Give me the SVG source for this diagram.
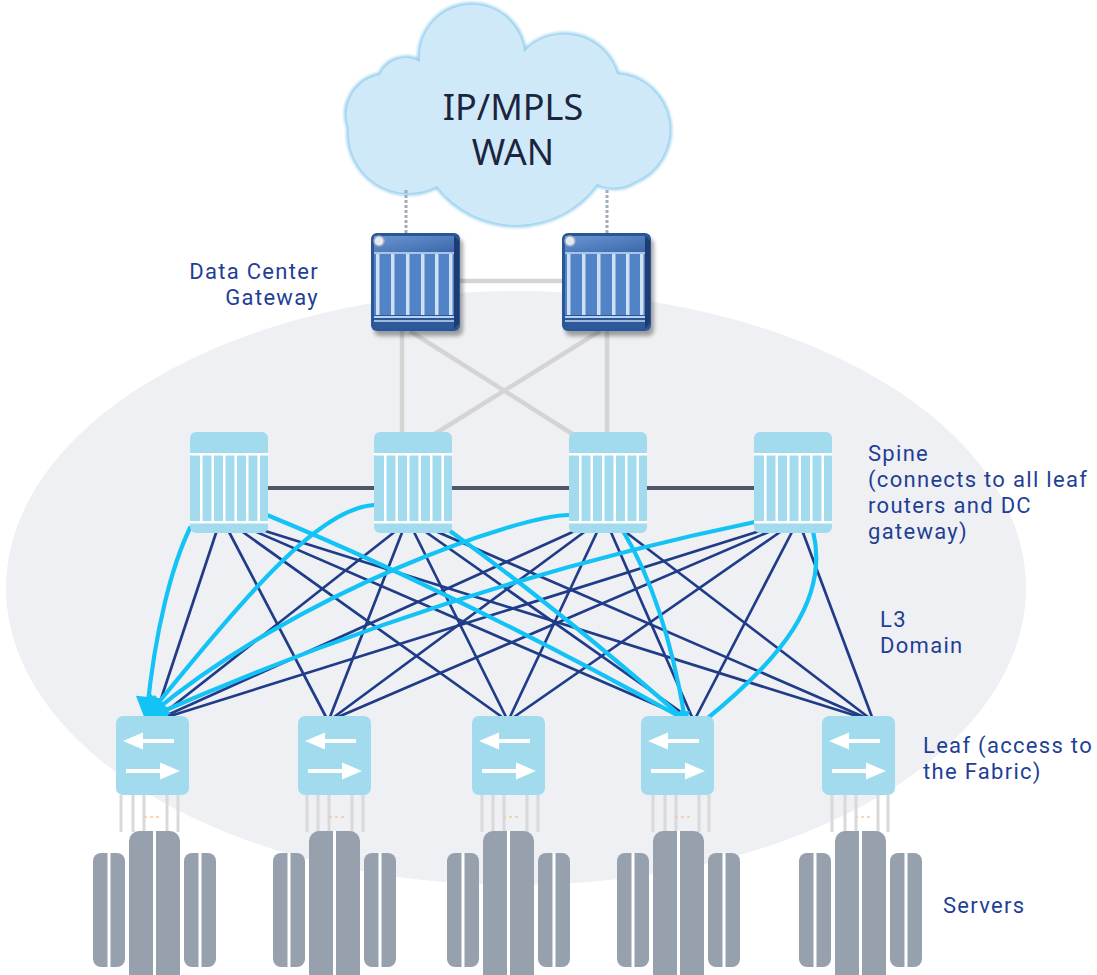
<svg xmlns="http://www.w3.org/2000/svg" xmlns:xlink="http://www.w3.org/1999/xlink" width="1097" height="975" viewBox="0 0 1097 975">
  <style>
    .lbl { font-family: Roboto, "Liberation Sans", sans-serif; font-size: 22px; fill: #1f3f95; letter-spacing: 1.3px; }
    .wan { font-family: "Noto Sans", "Open Sans", sans-serif; font-size: 36px; fill: #1b2540; text-anchor: middle; }
    .core { stroke: #d4d4d4; stroke-width: 4.5; fill: none; }
    .dark { stroke: #1f3c88; stroke-width: 2.7; fill: none; }
    .cyan { stroke: #14c3f5; stroke-width: 4.2; fill: none; stroke-linecap: round; }
    .cable { stroke: #d9d9d9; stroke-width: 3; }
    .srv { fill: #97a1ae; }
    .gap { stroke: #ffffff; stroke-width: 3; }
  </style>
  <defs>
    <filter id="soft" x="-10%" y="-10%" width="120%" height="120%">
      <feGaussianBlur stdDeviation="1.4"/>
    </filter>
    <filter id="shadow" x="-20%" y="-20%" width="140%" height="140%">
      <feGaussianBlur stdDeviation="2"/>
    </filter>
    <marker id="head" viewBox="0 0 10 10" refX="6" refY="5" markerWidth="7" markerHeight="6" orient="auto" markerUnits="strokeWidth">
      <path d="M0,0 L10,5 L0,10 Z" fill="#14c3f5"/>
    </marker>
    <marker id="tip" viewBox="0 0 10 10" refX="6" refY="5" markerWidth="3" markerHeight="3" orient="auto" markerUnits="strokeWidth">
      <path d="M0,0 L10,5 L0,10 Z" fill="#14c3f5"/>
    </marker>

    <linearGradient id="gwTop" x1="0" y1="0" x2="1" y2="1">
      <stop offset="0" stop-color="#6a95d2"/>
      <stop offset="1" stop-color="#3c68ab"/>
    </linearGradient>

    <!-- gateway router: blue chassis with card slots -->
    <g id="gwShape">
      <rect x="3" y="5" width="89" height="98" rx="6" fill="#000" opacity="0.35" filter="url(#shadow)"/>
      <rect width="89" height="98" rx="6" fill="#2a5596"/>
      <rect x="3" y="3" width="80" height="16" fill="url(#gwTop)"/>
      <rect x="3" y="19" width="80" height="2" fill="#a9c4e7"/>
      <rect x="3" y="21" width="80" height="61" fill="#5283c6"/>
      <rect x="5" y="21" width="3.5" height="61" fill="#cfe0f3"/>
      <rect x="20" y="21" width="3.5" height="61" fill="#cfe0f3"/>
      <rect x="35" y="21" width="3.5" height="61" fill="#cfe0f3"/>
      <rect x="50" y="21" width="3.5" height="61" fill="#cfe0f3"/>
      <rect x="64" y="21" width="3.5" height="61" fill="#cfe0f3"/>
      <rect x="78" y="21" width="3.5" height="61" fill="#cfe0f3"/>
      <rect x="3" y="83" width="80" height="2" fill="#bcd1eb"/>
      <rect x="3" y="87" width="80" height="2" fill="#9fb9de"/>
      <rect x="3" y="89" width="80" height="7" fill="#2d5899"/>
      <path d="M83,3 L88,8 L88,90 L83,96 Z" fill="#1c3c72"/>
      <circle cx="8" cy="8" r="5" fill="#e4eaf0" stroke="#9fb0c4" stroke-width="1.5"/>
    </g>

    <!-- spine switch -->
    <g id="spineShape">
      <rect width="78" height="101" rx="6" fill="#a3dbee"/>
      <rect y="21" width="78" height="2.5" fill="#ffffff"/>
      <rect y="89" width="78" height="2.5" fill="#ffffff"/>
      <rect x="10" y="22" width="2.5" height="68" fill="#ffffff"/>
      <rect x="21.5" y="22" width="2.5" height="68" fill="#ffffff"/>
      <rect x="33" y="22" width="2.5" height="68" fill="#ffffff"/>
      <rect x="44.5" y="22" width="2.5" height="68" fill="#ffffff"/>
      <rect x="56" y="22" width="2.5" height="68" fill="#ffffff"/>
      <rect x="67.5" y="22" width="2.5" height="68" fill="#ffffff"/>
    </g>

    <!-- leaf switch with bidirectional arrows -->
    <g id="leafShape">
      <rect width="73" height="79" rx="7" fill="#a3dbee"/>
      <line x1="26" y1="25" x2="58" y2="25" stroke="#ffffff" stroke-width="4"/>
      <path d="M7,25 L27,16.5 L27,33.5 Z" fill="#ffffff"/>
      <line x1="10" y1="55" x2="46" y2="55" stroke="#ffffff" stroke-width="4"/>
      <path d="M64,55 L44,46.5 L44,63.5 Z" fill="#ffffff"/>
    </g>

    <!-- server rack group, centred on x=0 -->
    <g id="serverShape">
      <rect class="srv" x="-61" y="853" width="32" height="114" rx="8"/>
      <line class="gap" x1="-45" y1="853" x2="-45" y2="967"/>
      <rect class="srv" x="-25" y="831" width="51" height="160" rx="10"/>
      <line class="gap" x1="0.5" y1="831" x2="0.5" y2="991"/>
      <rect class="srv" x="30" y="853" width="32" height="114" rx="8"/>
      <line class="gap" x1="46" y1="853" x2="46" y2="967"/>
    </g>
  </defs>

  <!-- L3 domain backdrop -->
  <ellipse cx="516" cy="588" rx="510" ry="297" fill="#eff0f4"/>

  <!-- WAN cloud -->
  <g id="wan">
    <path d="M349,128 A40,40 0 0 1 380,75 A28,28 0 0 1 420,62 A52,52 0 0 1 524,52 A55,55 0 0 1 617,74 A56,56 0 0 1 634,182 A40,40 0 0 1 597,184 A100,100 0 0 1 437,186 A60,60 0 0 1 349,128 Z" fill="none" stroke="#98d0f0" stroke-width="5" filter="url(#soft)"/>
    <path d="M349,128 A40,40 0 0 1 380,75 A28,28 0 0 1 420,62 A52,52 0 0 1 524,52 A55,55 0 0 1 617,74 A56,56 0 0 1 634,182 A40,40 0 0 1 597,184 A100,100 0 0 1 437,186 A60,60 0 0 1 349,128 Z" fill="#cfe9f8"/>
    <text class="wan" x="513" y="120">IP/MPLS</text>
    <text class="wan" x="513" y="165">WAN</text>
  </g>

  <g id="connectors">
    <!-- WAN uplinks -->
    <line x1="406" y1="190" x2="406" y2="234" stroke="#a3abb6" stroke-width="3" stroke-dasharray="3 2"/>
    <line x1="607" y1="190" x2="607" y2="234" stroke="#a3abb6" stroke-width="3" stroke-dasharray="3 2"/>
    <!-- gateway interconnect and gateway-to-spine links -->
    <line class="core" x1="458" y1="281" x2="562" y2="281"/>
    <line class="core" x1="402" y1="330" x2="402" y2="435"/>
    <line class="core" x1="410" y1="331" x2="574" y2="435"/>
    <line class="core" x1="600" y1="331" x2="433" y2="435"/>
    <line class="core" x1="607" y1="330" x2="607" y2="435"/>
    <!-- spine row link -->
    <line x1="265" y1="488" x2="756" y2="488" stroke="#4f5767" stroke-width="4"/>

    <!-- spine-to-leaf full mesh -->
    <line class="dark" x1="217" y1="530" x2="155" y2="717"/>
    <line class="dark" x1="228" y1="530" x2="326" y2="717"/>
    <line class="dark" x1="240" y1="530" x2="502" y2="717"/>
    <line class="dark" x1="252" y1="530" x2="684" y2="717"/>
    <line class="dark" x1="262" y1="530" x2="860" y2="717"/>
    <line class="dark" x1="397" y1="530" x2="159" y2="717"/>
    <line class="dark" x1="403" y1="530" x2="330" y2="717"/>
    <line class="dark" x1="413" y1="530" x2="506" y2="717"/>
    <line class="dark" x1="423" y1="530" x2="688" y2="717"/>
    <line class="dark" x1="433" y1="530" x2="864" y2="717"/>
    <line class="dark" x1="577" y1="530" x2="163" y2="717"/>
    <line class="dark" x1="587" y1="530" x2="334" y2="717"/>
    <line class="dark" x1="598" y1="530" x2="510" y2="717"/>
    <line class="dark" x1="610" y1="530" x2="692" y2="717"/>
    <line class="dark" x1="623" y1="530" x2="868" y2="717"/>
    <line class="dark" x1="763" y1="530" x2="167" y2="717"/>
    <line class="dark" x1="773" y1="530" x2="338" y2="717"/>
    <line class="dark" x1="783" y1="530" x2="514" y2="717"/>
    <line class="dark" x1="793" y1="530" x2="696" y2="717"/>
    <line class="dark" x1="802" y1="530" x2="872" y2="717"/>

    <!-- highlighted paths -->
    <path class="cyan" d="M190,528 C172,565 155,630 147,712" marker-end="url(#head)"/>
    <path class="cyan" d="M374,505 C320,508 250,590 150,713" marker-end="url(#head)"/>
    <path class="cyan" d="M569,515 C520,515 300,590 151,714" marker-end="url(#head)"/>
    <path class="cyan" d="M755,522 Q450,585 152,716" marker-end="url(#head)"/>
    <path class="cyan" d="M267,515 Q450,590 684,719" marker-end="url(#tip)"/>
    <path class="cyan" d="M450,531 Q560,610 684,719" marker-end="url(#tip)"/>
    <path class="cyan" d="M623,531 Q665,600 685,719" marker-end="url(#tip)"/>
    <path class="cyan" d="M813,531 C830,600 780,660 703,722"/>
  </g>

  <!-- gateways -->
  <g id="gateway1" transform="translate(371,233)"><use href="#gwShape"/></g>
  <g id="gateway2" transform="translate(562,233)"><use href="#gwShape"/></g>

  <!-- spines -->
  <g id="spine1" transform="translate(190,432)"><use href="#spineShape"/></g>
  <g id="spine2" transform="translate(374,432)"><use href="#spineShape"/></g>
  <g id="spine3" transform="translate(569,432)"><use href="#spineShape"/></g>
  <g id="spine4" transform="translate(754,432)"><use href="#spineShape"/></g>

  <!-- leaves with server cabling and racks -->
  <g id="leaf1">
    <line class="cable" x1="121" y1="795" x2="121" y2="832"/>
    <line class="cable" x1="133" y1="795" x2="133" y2="832"/>
    <line class="cable" x1="144" y1="795" x2="144" y2="832"/>
    <line class="cable" x1="167" y1="795" x2="167" y2="832"/>
    <line class="cable" x1="178" y1="795" x2="178" y2="832"/>
    <line x1="144" y1="817" x2="161" y2="817" stroke="#f6c8a0" stroke-width="1.5" stroke-dasharray="3 3"/>
    <use href="#leafShape" transform="translate(116,716)"/>
    <use href="#serverShape" transform="translate(154,0)"/>
  </g>
  <g id="leaf2">
    <line class="cable" x1="307" y1="795" x2="307" y2="832"/>
    <line class="cable" x1="318" y1="795" x2="318" y2="832"/>
    <line class="cable" x1="329" y1="795" x2="329" y2="832"/>
    <line class="cable" x1="352" y1="795" x2="352" y2="832"/>
    <line class="cable" x1="363" y1="795" x2="363" y2="832"/>
    <line x1="329" y1="817" x2="346" y2="817" stroke="#f6c8a0" stroke-width="1.5" stroke-dasharray="3 3"/>
    <use href="#leafShape" transform="translate(298,716)"/>
    <use href="#serverShape" transform="translate(334,0)"/>
  </g>
  <g id="leaf3">
    <line class="cable" x1="482" y1="795" x2="482" y2="832"/>
    <line class="cable" x1="493" y1="795" x2="493" y2="832"/>
    <line class="cable" x1="504" y1="795" x2="504" y2="832"/>
    <line class="cable" x1="527" y1="795" x2="527" y2="832"/>
    <line class="cable" x1="538" y1="795" x2="538" y2="832"/>
    <line x1="503" y1="817" x2="520" y2="817" stroke="#f6c8a0" stroke-width="1.5" stroke-dasharray="3 3"/>
    <use href="#leafShape" transform="translate(472,716)"/>
    <use href="#serverShape" transform="translate(508,0)"/>
  </g>
  <g id="leaf4">
    <line class="cable" x1="653" y1="795" x2="653" y2="832"/>
    <line class="cable" x1="665" y1="795" x2="665" y2="832"/>
    <line class="cable" x1="676" y1="795" x2="676" y2="832"/>
    <line class="cable" x1="699" y1="795" x2="699" y2="832"/>
    <line class="cable" x1="709" y1="795" x2="709" y2="832"/>
    <line x1="675" y1="817" x2="692" y2="817" stroke="#f6c8a0" stroke-width="1.5" stroke-dasharray="3 3"/>
    <use href="#leafShape" transform="translate(641,716)"/>
    <use href="#serverShape" transform="translate(678,0)"/>
  </g>
  <g id="leaf5">
    <line class="cable" x1="832" y1="795" x2="832" y2="832"/>
    <line class="cable" x1="845" y1="795" x2="845" y2="832"/>
    <line class="cable" x1="856" y1="795" x2="856" y2="832"/>
    <line class="cable" x1="878" y1="795" x2="878" y2="832"/>
    <line class="cable" x1="888" y1="795" x2="888" y2="832"/>
    <line x1="855" y1="817" x2="872" y2="817" stroke="#f6c8a0" stroke-width="1.5" stroke-dasharray="3 3"/>
    <use href="#leafShape" transform="translate(822,716)"/>
    <use href="#serverShape" transform="translate(860,0)"/>
  </g>

  <!-- labels -->
  <g id="labels">
    <text class="lbl" x="319" y="279" text-anchor="end">Data Center</text>
    <text class="lbl" x="319" y="305" text-anchor="end">Gateway</text>
    <text class="lbl" x="868" y="461">Spine</text>
    <text class="lbl" x="868" y="487">(connects to all leaf</text>
    <text class="lbl" x="868" y="513">routers and DC</text>
    <text class="lbl" x="868" y="539">gateway)</text>
    <text class="lbl" x="880" y="627">L3</text>
    <text class="lbl" x="880" y="653">Domain</text>
    <text class="lbl" x="923" y="753">Leaf (access to</text>
    <text class="lbl" x="923" y="779">the Fabric)</text>
    <text class="lbl" x="943" y="913">Servers</text>
  </g>
</svg>
